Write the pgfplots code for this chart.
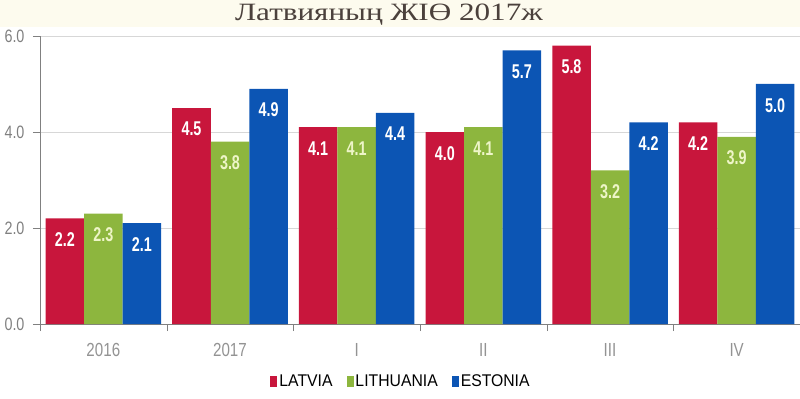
\documentclass[border=0pt]{standalone}
\usepackage{fontspec}
\usepackage{pgfplots}
\pgfplotsset{compat=1.18}
\setmainfont{Liberation Serif}
\newfontfamily\titlefont[FakeStretch=1.25]{Liberation Serif}
\newfontfamily\narrow[FakeStretch=0.8]{Liberation Sans}
\newfontfamily\narrowlg[FakeStretch=0.93]{Liberation Sans}
\newfontfamily\narrowbold[FakeStretch=0.72]{Liberation Sans Bold}
\definecolor{lv}{RGB}{200,22,60}
\definecolor{lt}{RGB}{141,182,62}
\definecolor{ee}{RGB}{12,85,180}
\definecolor{cream}{RGB}{253,251,238}
\definecolor{titlec}{RGB}{75,65,60}
\definecolor{tickc}{RGB}{128,128,128}
\definecolor{gridc}{RGB}{215,215,215}
\definecolor{ltlab}{RGB}{238,245,200}
\begin{document}
\begin{tikzpicture}[x=1bp,y=1bp]
\useasboundingbox (0,0) rectangle (800,398);
\fill[cream] (0,371) rectangle (800,398);
\node[font=\titlefont\fontsize{25}{28}\selectfont, text=titlec, anchor=base] at (389,378) {Латвияның ЖІӨ 2017ж};
\begin{axis}[
  at={(40bp,74bp)}, anchor=south west,
  width=760bp, height=288bp, scale only axis,
  ymin=0, ymax=6, xmin=-0.5, xmax=5.5,
  ybar, bar width=0.304,
  axis x line*=bottom, axis y line*=left,
  axis line style={draw=tickc},
  ytick={0,2,4,6},
  yticklabel={\pgfmathprintnumber[fixed,fixed zerofill,precision=1,assume math mode=true]{\tick}},
  y tick label style={font=\narrow\fontsize{18}{18}\selectfont, text=tickc, xshift=-5bp},
  x tick label style={font=\narrow\fontsize{19}{19}\selectfont, text=tickc!85, yshift=-9bp},
  xtick={0,1,2,3,4,5}, xticklabels={2016,2017,I,II,III,IV},
  minor xtick={-0.5,0.5,1.5,2.5,3.5,4.5,5.5},
  every major x tick/.style={draw=none},
  tick style={draw=tickc},
  tick align=outside, major tick length=7bp, minor tick length=7bp,
  ymajorgrids, grid style={draw=gridc},
  legend style={at={(0.475,-0.198)}, anchor=center, draw=none, fill=none,
    legend columns=-1, font=\narrowlg\fontsize{17}{17}\selectfont,
    /tikz/every even column/.append style={column sep=12bp},
    inner sep=0pt},
  nodes near coords={\pgfmathprintnumber[fixed,fixed zerofill,precision=1,assume math mode=true]{\pgfplotspointmeta}},
  every node near coord/.append style={anchor=north, inner sep=0pt, yshift=-14bp,
    font=\narrowbold\fontsize{20}{20}\selectfont},
]
\addplot[fill=lv, draw=none, bar shift=-0.304,
  every node near coord/.append style={text=white},
  legend image code/.code={\fill[lv] (0bp,-5.5bp) rectangle (7bp,5.5bp);}]
  coordinates {(0,2.2) (1,4.5) (2,4.1) (3,4.0) (4,5.8) (5,4.2)};
\addplot[fill=lt, draw=none, bar shift=0,
  every node near coord/.append style={text=ltlab},
  legend image code/.code={\fill[lt] (0bp,-5.5bp) rectangle (7bp,5.5bp);}]
  coordinates {(0,2.3) (1,3.8) (2,4.1) (3,4.1) (4,3.2) (5,3.9)};
\addplot[fill=ee, draw=none, bar shift=0.304,
  every node near coord/.append style={text=white},
  legend image code/.code={\fill[ee] (0bp,-5.5bp) rectangle (7bp,5.5bp);}]
  coordinates {(0,2.1) (1,4.9) (2,4.4) (3,5.7) (4,4.2) (5,5.0)};
\legend{LATVIA,LITHUANIA,ESTONIA}
\end{axis}
\end{tikzpicture}
\end{document}
